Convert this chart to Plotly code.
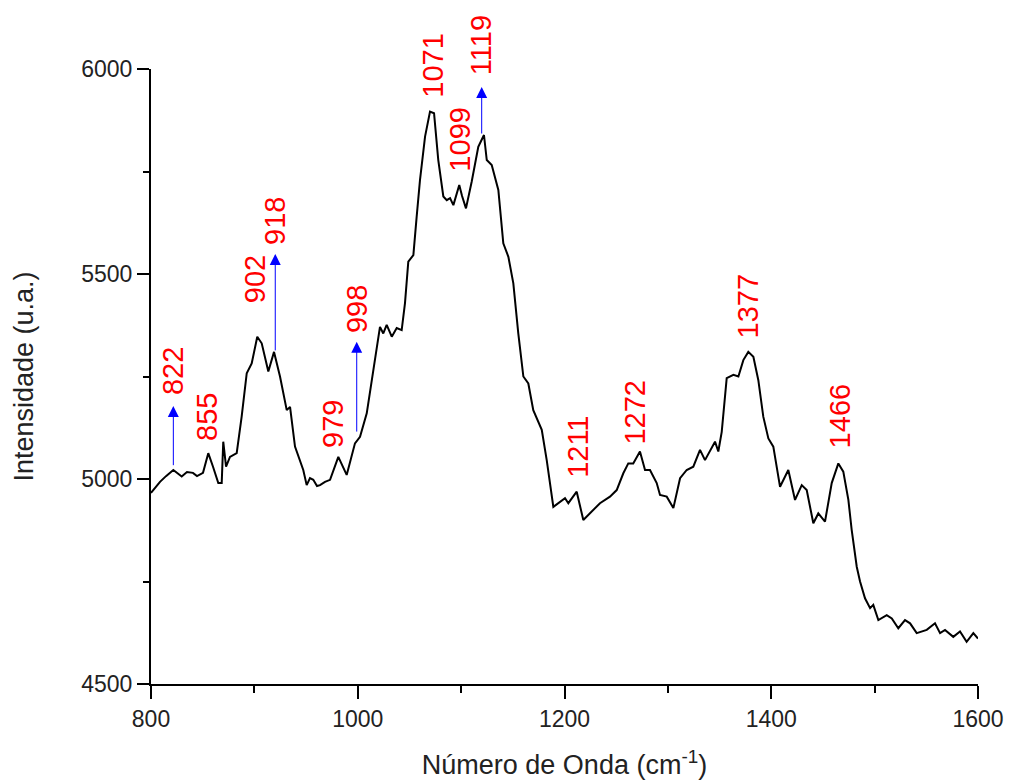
import plotly.graph_objects as go

# Spectrum
wavenumber = [800, 808.7, 814.5, 821.6, 829.7, 834.8, 840.6, 844.5, 850.3, 855.4, 860, 865.1, 868.4, 869.9,
              872.6, 876.4, 882.9, 887.7, 892.6, 897.4, 902.8, 907.1, 913.5, 919, 924.8, 931.3, 934.5, 939.3,
              947.3, 950.6, 953.8, 957, 960.6, 963.5, 968.3, 973.2, 981.2, 989.3, 997.3, 1002.2, 1008.7,
              1015, 1018.3, 1021.5, 1024.7, 1028, 1032.9, 1037.7, 1042.5, 1045.7, 1048.9, 1053.8, 1057,
              1060.2, 1065.1, 1069.9, 1073.8, 1077.9, 1082.8, 1086.1, 1089.3, 1092.5, 1098.2, 1100.9, 1104.7,
              1110.2, 1116.6, 1119.9, 1122.1, 1124.8, 1129.6, 1136, 1140.8, 1145.7, 1150.5, 1155.3, 1160.2,
              1165, 1169.8, 1178, 1182.8, 1189.2, 1195.7, 1200.5, 1203.7, 1211.8, 1218.2, 1224.7, 1234.3,
              1244, 1250.5, 1256.9, 1261.7, 1266.5, 1273, 1277.9, 1282.7, 1289.2, 1292.4, 1298.9, 1305.3,
              1311.8, 1318.2, 1324.6, 1331.1, 1335.9, 1342.4, 1345.6, 1348.8, 1352.1, 1356.9, 1363.4, 1368.2,
              1373, 1377.8, 1382.7, 1387.5, 1392.3, 1397.2, 1402, 1408.5, 1416.5, 1423, 1429.5, 1434.3,
              1440.7, 1445.5, 1452, 1458.5, 1464.9, 1469.7, 1474.6, 1477.8, 1482.7, 1485.9, 1490.7, 1495.6,
              1498.7, 1503.6, 1511.7, 1516.6, 1522.9, 1529.4, 1534.3, 1540.7, 1550.4, 1558.4, 1563.3, 1568.1,
              1576.1, 1582.6, 1589, 1595.5, 1600]
intensity = [4966, 4993, 5007, 5022, 5006, 5017, 5015, 5007, 5015, 5063, 5030, 4990, 4990, 5091,
             5030, 5054, 5063, 5152, 5258, 5282, 5347, 5331, 5262, 5310, 5250, 5168, 5176, 5079,
             5022, 4985, 5002, 4998, 4983, 4985, 4993, 4998, 5054, 5010, 5087, 5103, 5160,
             5266, 5323, 5371, 5355, 5376, 5347, 5368, 5363, 5429, 5530, 5546, 5640,
             5729, 5835, 5896, 5892, 5778, 5689, 5680, 5685, 5668, 5717, 5690, 5660,
             5725, 5810, 5827, 5839, 5778, 5766, 5705, 5575, 5542, 5477, 5355, 5250,
             5233, 5168, 5120, 5046, 4932, 4945, 4953, 4941, 4969, 4900, 4916, 4941,
             4957, 4973, 5014, 5038, 5038, 5067, 5022, 5022, 4990, 4961, 4957, 4929,
             5002, 5022, 5030, 5071, 5046, 5075, 5091, 5067, 5115, 5246, 5254, 5250,
             5290, 5310, 5298, 5241, 5152, 5099, 5079, 4981, 5022, 4949, 4985, 4973,
             4892, 4916, 4896, 4990, 5038, 5018, 4949, 4876, 4786, 4750, 4709, 4685,
             4693, 4656, 4668, 4660, 4636, 4656, 4648, 4624, 4632, 4648, 4624, 4632,
             4615, 4628, 4603, 4624, 4611]

# Peak labels and the level at which each label starts (its lower end)
peak_labels = ["822", "855", "902", "918", "979", "998", "1071", "1099", "1119", "1211", "1272", "1377", "1466"]
label_x = [821.3, 854.2, 900.6, 920, 976.1, 999.3, 1072.8, 1098.9, 1119.2, 1213.1, 1268.2, 1377.5, 1466.5]
label_base = [5200, 5088, 5424, 5566, 5071, 5351, 5924, 5746, 5980, 4998, 5078, 5339, 5071]

# Blue arrows (x, start y on curve, tip y)
arrow_x = [821.6, 920.2, 999.0, 1119.9]
arrow_y0 = [5030, 5310, 5112, 5839]
arrow_y1 = [5178, 5549, 5335, 5956]

x_ticks = [800, 1000, 1200, 1400, 1600]
y_ticks = [4500, 5000, 5500, 6000]

FONT = "Arial, 'Liberation Sans', sans-serif"

fig = go.Figure()
fig.add_trace(go.Scatter(x=wavenumber, y=intensity, mode="lines",
                         line=dict(color="black", width=2), showlegend=False,
                         hoverinfo="skip"))

for ax_, y0, y1 in zip(arrow_x, arrow_y0, arrow_y1):
    fig.add_annotation(x=ax_, y=y1, ax=ax_, ay=y0, xref="x", yref="y", axref="x", ayref="y",
                       text="", showarrow=True, arrowhead=2, arrowsize=2.2, arrowwidth=1,
                       arrowcolor="#0000ff", standoff=0, startstandoff=0)

for t, lx, ly in zip(peak_labels, label_x, label_base):
    fig.add_annotation(x=lx, y=ly, xref="x", yref="y", text=t, showarrow=False,
                       textangle=-90, xanchor="center", yanchor="bottom",
                       font=dict(family=FONT, size=29, color="red"))

fig.update_layout(
    width=1009, height=780,
    margin=dict(l=151, r=31, t=69, b=96),
    paper_bgcolor="white", plot_bgcolor="white",
    font=dict(family=FONT, color="black"),
    showlegend=False,
)
fig.update_xaxes(range=[800, 1600], tickvals=x_ticks, ticks="outside", ticklen=13, tickwidth=2,
                 tickcolor="black", showline=True, linecolor="black", linewidth=2, showgrid=False,
                 zeroline=False, automargin=False, tickfont=dict(size=23, family=FONT, color="#222"),
                 minor=dict(dtick=100, tick0=800, ticks="outside", ticklen=7, tickwidth=2, tickcolor="black", showgrid=False),
                 title=dict(text="Número de Onda (cm<sup>-1</sup>)", font=dict(size=27, family=FONT, color="#222"), standoff=26))
fig.update_yaxes(range=[4500, 6000], tickvals=y_ticks, ticks="outside", ticklen=12, tickwidth=2,
                 tickcolor="black", showline=True, linecolor="black", linewidth=2, showgrid=False,
                 zeroline=False, automargin=False, tickfont=dict(size=23, family=FONT, color="#222"),
                 minor=dict(dtick=250, tick0=4500, ticks="outside", ticklen=6, tickwidth=2, tickcolor="black", showgrid=False),
                 title=dict(text="Intensidade (u.a.)", font=dict(size=27, family=FONT, color="#222"), standoff=40))

fig.write_html("out.html")
